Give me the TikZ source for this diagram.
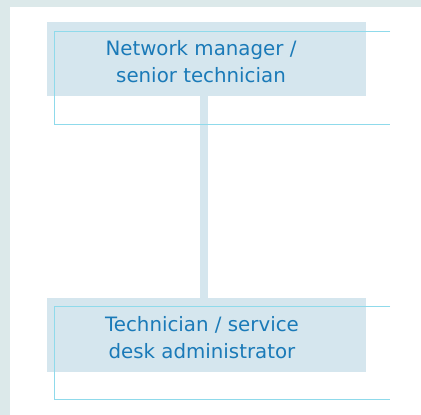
\documentclass[tikz,border=0pt]{standalone}
\usepackage{fontspec}
\setmainfont{DejaVu Sans}
\definecolor{bandc}{HTML}{DCE9EA}
\definecolor{boxc}{HTML}{D5E6EE}
\definecolor{linec}{HTML}{8FDAEB}
\definecolor{textc}{HTML}{1A7AB8}
\begin{document}
\begin{tikzpicture}[x=1pt,y=-1pt,
  fillbox/.style={fill=boxc,draw=none},
  outline/.style={draw=linec,line width=1pt},
  label/.style={text=textc,align=center,font=\fontsize{19.8}{27}\selectfont,inner sep=0pt},
  link/.style={draw=boxc,line width=8pt}]
\useasboundingbox (0,0) rectangle (421,415);
\fill[bandc] (0,0) rectangle (421,415);
\fill[white] (10,7) rectangle (421,415);
% boxes
\path[fillbox] (47,22) rectangle (366,96);
\path[fillbox] (47,298) rectangle (366,372);
\node[inner sep=0pt,minimum width=319pt,minimum height=74pt] (top) at (206.5,59) {};
\node[inner sep=0pt,minimum width=319pt,minimum height=74pt] (bot) at (206.5,335) {};
% connector
\draw[link] (top.south -| 204,0) -- (bot.north -| 204,0);
% outlines
\draw[outline] (390,31) -- (54,31) -- (54,124) -- (390,124);
\draw[outline] (390,306) -- (54,306) -- (54,399) -- (390,399);
% labels
\node[label] (t1) at (201,61.5) {Network manager /\\ senior technician};
\node[label] (t2) at (202,338) {Technician / service\\ desk administrator};
\end{tikzpicture}
\end{document}
